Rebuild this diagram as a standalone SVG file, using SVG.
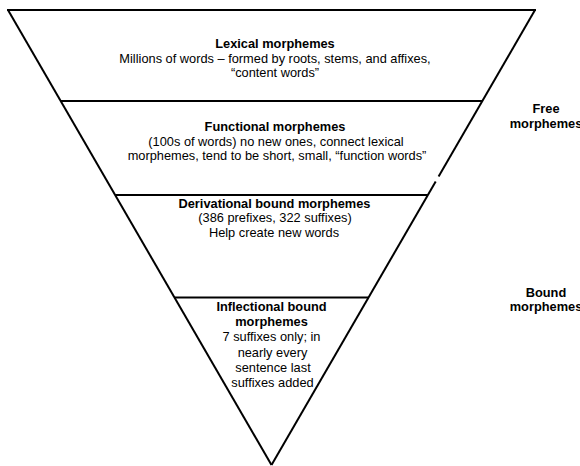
<svg xmlns="http://www.w3.org/2000/svg" width="580" height="466" viewBox="0 0 580 466">
<style>
.edge{stroke:#000;stroke-width:2;fill:none;stroke-linecap:butt}
text{font-family:"Liberation Sans",Arial,sans-serif;font-size:12.8px;fill:#000;text-anchor:middle}
.b{font-weight:bold}
</style>
<rect x="0" y="0" width="580" height="466" fill="#fff"/>
<g id="connectors">
<line class="edge" x1="7" y1="10" x2="536" y2="10"/>
<line class="edge" x1="8" y1="10" x2="271.5" y2="465"/>
<line class="edge" x1="535" y1="10" x2="438.6" y2="176.5"/>
<line class="edge" x1="435.7" y1="181.5" x2="271.5" y2="465"/>
<line class="edge" x1="60.7" y1="101" x2="482.3" y2="101"/>
<line class="edge" x1="115.1" y1="195" x2="427.9" y2="195"/>
<line class="edge" x1="174.5" y1="297.5" x2="368.5" y2="297.5"/>
</g>
<g id="lexical">
<text class="b" x="275" y="48">Lexical morphemes</text>
<text x="275" y="62.5">Millions of words – formed by roots, stems, and affixes,</text>
<text x="275" y="77">“content words”</text>
</g>
<g id="functional">
<text class="b" x="275" y="131">Functional morphemes</text>
<text x="276" y="145.5">(100s of words) no new ones, connect lexical</text>
<text x="277" y="160">morphemes, tend to be short, small, “function words”</text>
</g>
<g id="derivational">
<text class="b" x="274.5" y="207.5">Derivational bound morphemes</text>
<text x="275" y="222">(386 prefixes, 322 suffixes)</text>
<text x="274" y="236.5">Help create new words</text>
</g>
<g id="inflectional">
<text class="b" x="271.5" y="311">Inflectional bound</text>
<text class="b" x="271.5" y="326.2">morphemes</text>
<text x="271.5" y="341.4">7 suffixes only; in</text>
<text x="272.5" y="356.6">nearly every</text>
<text x="273" y="371.8">sentence last</text>
<text x="272.5" y="387">suffixes added</text>
</g>
<g id="free">
<text class="b" x="546" y="113">Free</text>
<text class="b" x="546" y="127.5">morphemes</text>
</g>
<g id="bound">
<text class="b" x="546" y="296.5">Bound</text>
<text class="b" x="546" y="311">morphemes</text>
</g>
</svg>
